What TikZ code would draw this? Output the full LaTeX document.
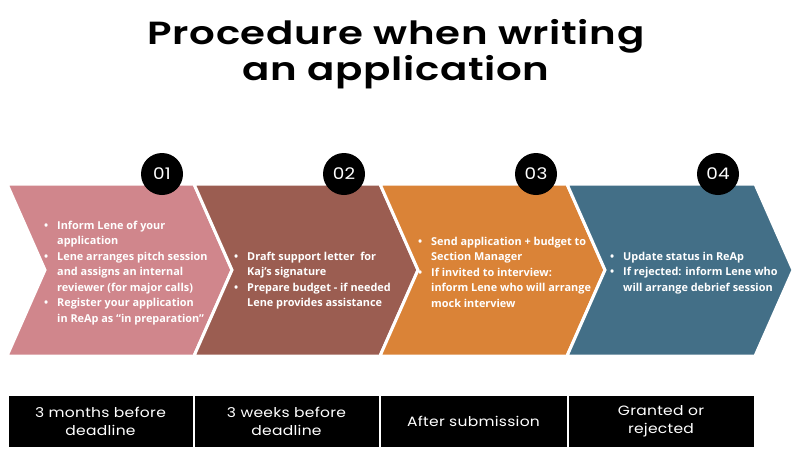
\documentclass[tikz,border=0pt]{standalone}
\usepackage{fontspec}
\setmainfont{Open Sans}
\newfontfamily\titlefont{Poppins}[BoldFont={Poppins SemiBold}, FakeStretch=1.26, LetterSpace=2]
\newfontfamily\labelfont{Poppins}[FakeStretch=1.15, LetterSpace=2]
\definecolor{cpink}{HTML}{D0868C}
\definecolor{cbrown}{HTML}{9B5D51}
\definecolor{corange}{HTML}{DA8337}
\definecolor{cblue}{HTML}{436F87}
\newcommand\bulletmark{\makebox[14pt][l]{\hspace*{1pt}\textbullet}}
\newcommand\indentmark{\hspace*{14pt}}
\tikzset{
  chevron/.style={draw=white, line width=3pt, line join=miter},
  numcircle/.style={circle, fill=black, minimum size=42pt, inner sep=0pt, text=white, font=\labelfont\fontsize{16}{16}\selectfont},
  bodytext/.style={anchor=base west, inner sep=0pt, align=left, text=white, font=\bfseries\fontsize{10.9}{15.5}\selectfont},
  timebox/.style={fill=black, draw=white, line width=1pt},
  timetext/.style={align=center, text=white, inner sep=0pt, font=\labelfont\fontsize{13.5}{18}\selectfont},
}
\begin{document}
\begin{tikzpicture}[x=1pt,y=-1pt]
\useasboundingbox (0,0) rectangle (800,461);
% title (anchor base = baseline of its last line)
\node[font=\titlefont\bfseries\fontsize{32}{36}\selectfont, align=center, anchor=base, inner sep=0pt] (title) at (396,80)
  {Procedure when writing\\an application};
% chevrons
\def\ytop{184}\def\ybot{356}\def\ymid{270}\def\dep{38}
\foreach \a/\b/\c/\n in {7/194/cpink/c1, 194/380/cbrown/c2, 380/567/corange/c3, 567/755/cblue/c4}{
  \fill[\c] (\a,\ytop) -- (\b,\ytop) -- (\b+\dep,\ymid) -- (\b,\ybot) -- (\a,\ybot) -- (\a+\dep,\ymid) -- cycle;
  \draw[chevron] (\a,\ytop) -- (\b,\ytop) -- (\b+\dep,\ymid) -- (\b,\ybot) -- (\a,\ybot) -- (\a+\dep,\ymid) -- cycle;
}
% number circles
\node[numcircle] (n1) at (162,174) {01};
\node[numcircle] (n2) at (344,174) {02};
\node[numcircle] (n3) at (536,174) {03};
\node[numcircle] (n4) at (718,174) {04};
% body texts (anchor base = baseline of last line)
\node[bodytext] (t1) at (43,322) {\bulletmark Inform Lene of your\\
\indentmark application\\
\bulletmark Lene arranges pitch session\\
\indentmark and assigns an internal\\
\indentmark reviewer (for major calls)\\
\bulletmark Register your application\\
\indentmark in ReAp as “in preparation”};
\node[bodytext] (t2) at (233,306.5) {\bulletmark Draft support letter\ \ for\\
\indentmark Kaj’s signature\\
\bulletmark Prepare budget - if needed\\
\indentmark Lene provides assistance};
\node[bodytext] (t3) at (417,307) {\bulletmark Send application + budget to\\
\indentmark Section Manager\\
\bulletmark If invited to interview:\\
\indentmark inform Lene who will arrange\\
\indentmark mock interview};
\node[bodytext] (t4) at (609,291) {\bulletmark Update status in ReAp\\
\bulletmark If rejected: inform Lene who\\
\indentmark will arrange debrief session};
% time boxes
\draw[timebox] (8,395) rectangle (193,447);
\draw[timebox] (194,395) rectangle (379,447);
\draw[timebox] (380,395) rectangle (567,447);
\draw[timebox] (568,395) rectangle (754,447);
\node[timetext] (b1) at (100.5,421) {3 months before\\deadline};
\node[timetext] (b2) at (286.5,421) {3 weeks before\\deadline};
\node[timetext] (b3) at (473.5,421) {After submission};
\node[timetext] (b4) at (661,421) {Granted or\\rejected};
\end{tikzpicture}
\end{document}
